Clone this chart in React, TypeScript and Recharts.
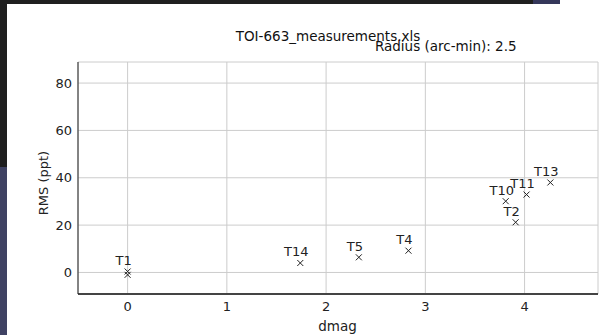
import React from 'react';
import { ScatterChart, Scatter, XAxis, YAxis, CartesianGrid } from 'recharts';

const pointLabels = ['T1', '', 'T14', 'T5', 'T4', 'T10', 'T2', 'T11', 'T13'];
const dmagValues = [0, 0, 1.74, 2.33, 2.83, 3.81, 3.91, 4.02, 4.26];
const rmsValues = [0.4, -1.0, 4.0, 6.4, 9.2, 30.1, 21.2, 32.9, 38.0];
const xTicks = [0, 1, 2, 3, 4];
const yTicks = [0, 20, 40, 60, 80];
const xDomain = [-0.5, 4.74];
const yDomain = [-9.1, 88.9];
const chartTitle = 'TOI-663_measurements.xls';
const chartSubtitle = 'Radius (arc-min): 2.5';
const xLabel = 'dmag';
const yLabel = 'RMS (ppt)';

const data = dmagValues.map((d, i) => ({ dmag: d, rms: rmsValues[i], label: pointLabels[i] }));

const FONT = '"DejaVu Sans", sans-serif';

const CrossShape = (props: any) => {
  const { cx, cy, payload } = props;
  const s = 3;
  return (
    <g>
      <path
        d={`M${cx - s},${cy - s}L${cx + s},${cy + s}M${cx - s},${cy + s}L${cx + s},${cy - s}`}
        stroke="#222"
        strokeWidth={1}
        fill="none"
      />
      {payload.label ? (
        <text x={cx - 4} y={cy - 6.5} textAnchor="middle" fontSize={13} fontFamily={FONT} fill="#222">
          {payload.label}
        </text>
      ) : null}
    </g>
  );
};

export default function App() {
  return (
    <div style={{ position: 'absolute', left: 0, top: 0, width: 605, height: 335, background: '#fff', overflow: 'hidden' }}>
      <div style={{ position: 'absolute', left: 0, top: 0, width: 7, height: 167, background: '#1f1f1f' }} />
      <div style={{ position: 'absolute', left: 0, top: 167, width: 7, height: 168, background: '#3f4263' }} />
      <div style={{ position: 'absolute', left: 0, top: 0, width: 533, height: 4, background: '#1f1f1f' }} />
      <div style={{ position: 'absolute', left: 533, top: 0, width: 27, height: 4, background: '#35375a' }} />
      <ScatterChart width={605} height={335} margin={{ top: 62, right: 7, left: 0, bottom: 0 }}>
        <CartesianGrid stroke="#cccccc" strokeWidth={1} />
        <XAxis
          type="number"
          dataKey="dmag"
          domain={xDomain}
          ticks={xTicks}
          allowDataOverflow
          height={41}
          tickLine={false}
          axisLine={{ stroke: '#444', strokeWidth: 2 }}
          tick={{ fontSize: 13, fontFamily: FONT, fill: '#222' }}
          tickSize={6}
          tickMargin={2}
        />
        <XAxis
          xAxisId="top"
          orientation="top"
          type="number"
          dataKey="dmag"
          domain={xDomain}
          allowDataOverflow
          height={0}
          tick={false}
          tickLine={false}
          axisLine={{ stroke: '#222', strokeWidth: 1 }}
        />
        <YAxis
          type="number"
          dataKey="rms"
          domain={yDomain}
          ticks={yTicks}
          allowDataOverflow
          width={78}
          tickLine={false}
          axisLine={{ stroke: '#222', strokeWidth: 1 }}
          tick={{ fontSize: 13, fontFamily: FONT, fill: '#222' }}
          tickSize={4}
          tickMargin={2}
        />
        <YAxis
          yAxisId="right"
          orientation="right"
          type="number"
          dataKey="rms"
          domain={yDomain}
          allowDataOverflow
          width={0}
          tick={false}
          tickLine={false}
          axisLine={{ stroke: '#444', strokeWidth: 2 }}
        />
        <Scatter data={data} shape={CrossShape} isAnimationActive={false} />
      </ScatterChart>
      <svg width={605} height={335} style={{ position: 'absolute', left: 0, top: 0, pointerEvents: 'none' }}>
        <text x={328} y={40.5} textAnchor="middle" fontSize={13.5} fontFamily={FONT} fill="#111">{chartTitle}</text>
        <text x={516.6} y={51.4} textAnchor="end" fontSize={13.5} fontFamily={FONT} fill="#111">{chartSubtitle}</text>
        <text x={337.5} y={331} textAnchor="middle" fontSize={13.5} fontFamily={FONT} fill="#222">{xLabel}</text>
        <text x={43} y={183} textAnchor="middle" dominantBaseline="central" fontSize={13} fontFamily={FONT} fill="#222" transform="rotate(-90 43 183)">{yLabel}</text>
      </svg>
    </div>
  );
}
